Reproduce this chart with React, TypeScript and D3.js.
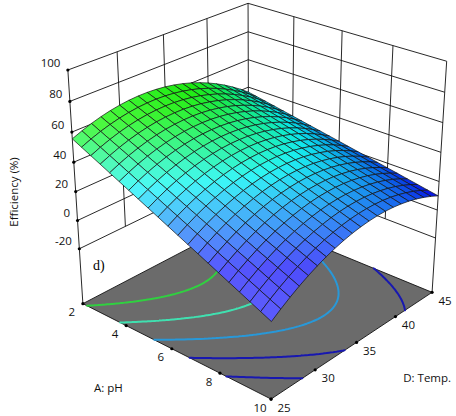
import * as d3 from 'd3';
import React, { useRef, useEffect } from 'react';

const width = 456;
const height = 416;

// factor ranges and tick labels
const phTicks = [2, 4, 6, 8, 10];
const tempTicks = [25, 30, 35, 40, 45];
const effTicks = [-20, 0, 20, 40, 60, 80, 100];
const effRange = [-60, 100];

// coded quadratic model (A = pH, D = Temp, both coded -1..1)
const modelTerms = ['1', 'A', 'D', 'AD', 'A2', 'D2'];
const modelCoefs = [42.5, -22.5, -0.3, 9.3, -0.25, -18.8];

// contour levels drawn on the floor
const contourLevels = [6, 18, 30, 42, 54];
const contourColors = ['#1818b0', '#1818b0', '#2898d8', '#40e0b0', '#30d040'];

// camera
const view = {
  azimuth: 41.4,
  elevation: 26.4,
  distance: 11,
  focal: 1416,
  cx: 258.7,
  cy: 186.5,
  halfHeight: 1.006,
};
const meshCells = 20;

const xs = d3.scaleLinear().domain([2, 10]).range([-1, 1]);
const ys = d3.scaleLinear().domain([25, 45]).range([-1, 1]);
const zs = d3.scaleLinear().domain(effRange).range([-view.halfHeight, view.halfHeight]);

const az = (view.azimuth * Math.PI) / 180;
const el = (view.elevation * Math.PI) / 180;
const ca = Math.cos(az);
const sa = Math.sin(az);
const ce = Math.cos(el);
const se = Math.sin(el);

const toView = (X: number, Y: number, Z: number) => {
  const xc = X * ca + Y * sa;
  const q = X * sa - Y * ca;
  const depth = view.distance - q * ce - Z * se;
  const up = -q * se + Z * ce;
  return [view.cx + (view.focal * xc) / depth, view.cy - (view.focal * up) / depth, depth];
};
const project = (ph: number, t: number, eff: number) => toView(xs(ph), ys(t), zs(eff));

const efficiency = (ph: number, t: number) => {
  const a = xs(ph);
  const d = ys(t);
  const term: Record<string, number> = { '1': 1, A: a, D: d, AD: a * d, A2: a * a, D2: d * d };
  return d3.sum(modelTerms, (k, i) => modelCoefs[i] * term[k]);
};

const baseColor = d3
  .scaleLinear<string>()
  .domain([10, 38, 60])
  .range(['#0000ff', '#00ffff', '#10ff00'])
  .clamp(true);

const light = (() => {
  const v = [0.3, -0.8, 0.5];
  const n = Math.hypot(v[0], v[1], v[2]);
  return v.map((c) => c / n);
})();

const shade = (eff: number, lam: number) => {
  const c = d3.rgb(baseColor(eff));
  const k = 0.86 + 0.14 * lam;
  const w = 0.45 * lam * lam;
  const mix = (v: number) => v * k * (1 - w) + 255 * w;
  return d3.rgb(mix(c.r), mix(c.g), mix(c.b)).formatHex();
};

// marching squares on the floor
const isoSegments = (level: number, n: number) => {
  const ph = d3.range(n + 1).map((i) => 2 + (8 * i) / n);
  const tt = d3.range(n + 1).map((j) => 25 + (20 * j) / n);
  const v = ph.map((p) => tt.map((t) => efficiency(p, t)));
  const segs: number[][][] = [];
  for (let i = 0; i < n; i++) {
    for (let j = 0; j < n; j++) {
      const c = [
        [ph[i], tt[j], v[i][j]],
        [ph[i + 1], tt[j], v[i + 1][j]],
        [ph[i + 1], tt[j + 1], v[i + 1][j + 1]],
        [ph[i], tt[j + 1], v[i][j + 1]],
      ];
      const pts: number[][] = [];
      for (let k = 0; k < 4; k++) {
        const p = c[k];
        const q = c[(k + 1) % 4];
        if ((p[2] - level) * (q[2] - level) < 0) {
          const f = (level - p[2]) / (q[2] - p[2]);
          pts.push([p[0] + (q[0] - p[0]) * f, p[1] + (q[1] - p[1]) * f]);
        }
      }
      if (pts.length >= 2) segs.push([pts[0], pts[1]]);
      if (pts.length === 4) segs.push([pts[2], pts[3]]);
    }
  }
  return segs;
};

const App = () => {
  const ref = useRef<SVGSVGElement>(null);

  useEffect(() => {
    if (!ref.current) return;
    const svg = d3.select(ref.current);
    svg.selectAll('*').remove();

    const floorZ = effRange[0];
    const line = d3.line<number[]>().x((p) => p[0]).y((p) => p[1]);
    const seg = (a: number[], b: number[]) =>
      line([project(a[0], a[1], a[2]), project(b[0], b[1], b[2])]);

    // back walls
    const frame = svg.append('g').attr('fill', 'none').attr('stroke', '#111').attr('stroke-width', 0.9);
    effTicks.forEach((e) => {
      frame.append('path').attr('d', seg([2, 25, e], [2, 45, e]));
      frame.append('path').attr('d', seg([2, 45, e], [10, 45, e]));
    });
    tempTicks.slice(1, -1).forEach((t) => {
      frame.append('path').attr('d', seg([2, t, -20], [2, t, 100]));
    });
    phTicks.slice(1, -1).forEach((p) => {
      frame.append('path').attr('d', seg([p, 45, -20], [p, 45, 100]));
    });
    frame.append('path').attr('d', seg([2, 25, floorZ], [2, 25, 100]));
    frame.append('path').attr('d', seg([2, 45, floorZ], [2, 45, 100]));
    frame.append('path').attr('d', seg([10, 45, floorZ], [10, 45, 100]));

    // floor
    const floorPts = [
      [2, 25],
      [10, 25],
      [10, 45],
      [2, 45],
    ].map((p) => project(p[0], p[1], floorZ));
    svg
      .append('path')
      .attr('d', line(floorPts) + 'Z')
      .attr('fill', '#6b6b6b')
      .attr('stroke', '#111')
      .attr('stroke-width', 0.9);

    // floor contours
    contourLevels.forEach((lv, i) => {
      const d = isoSegments(lv, 90)
        .map((s) => line(s.map((p) => project(p[0], p[1], floorZ))))
        .join('');
      svg
        .append('path')
        .attr('d', d)
        .attr('fill', 'none')
        .attr('stroke', contourColors[i])
        .attr('stroke-width', 2)
        .attr('stroke-linecap', 'round');
    });

    // tick dots and labels
    const font = "'Open Sans', 'DejaVu Sans', sans-serif";
    const txt = svg.append('g').attr('font-family', font).attr('font-size', 11.5).attr('fill', '#111');
    const dots = svg.append('g').attr('fill', '#000');

    effTicks.forEach((e) => {
      const p = project(2, 25, e);
      dots.append('circle').attr('cx', p[0]).attr('cy', p[1]).attr('r', 1.6);
      txt
        .append('text')
        .attr('x', p[0] - 7.5)
        .attr('y', p[1] - 7.8)
        .attr('text-anchor', 'end')
        .attr('dominant-baseline', 'central')
        .text(e);
    });
    phTicks.forEach((ph) => {
      const p = project(ph, 25, floorZ);
      dots.append('circle').attr('cx', p[0]).attr('cy', p[1]).attr('r', 1.6);
      txt
        .append('text')
        .attr('x', p[0] - 11)
        .attr('y', p[1] + 8)
        .attr('text-anchor', 'middle')
        .attr('dominant-baseline', 'central')
        .text(ph);
    });
    tempTicks.forEach((t) => {
      const p = project(10, t, floorZ);
      dots.append('circle').attr('cx', p[0]).attr('cy', p[1]).attr('r', 1.6);
      txt
        .append('text')
        .attr('x', p[0] + 13)
        .attr('y', p[1] + 8)
        .attr('text-anchor', 'middle')
        .attr('dominant-baseline', 'central')
        .text(t);
    });

    // surface mesh
    const n = meshCells;
    const phs = d3.range(n + 1).map((i) => 2 + (8 * i) / n);
    const tts = d3.range(n + 1).map((j) => 25 + (20 * j) / n);
    const quads: { d: string; depth: number; fill: string }[] = [];
    for (let i = 0; i < n; i++) {
      for (let j = 0; j < n; j++) {
        const corners = [
          [phs[i], tts[j]],
          [phs[i + 1], tts[j]],
          [phs[i + 1], tts[j + 1]],
          [phs[i], tts[j + 1]],
        ].map((c) => [c[0], c[1], efficiency(c[0], c[1])]);
        const w = corners.map((c) => [xs(c[0]), ys(c[1]), zs(c[2])]);
        const u = [w[2][0] - w[0][0], w[2][1] - w[0][1], w[2][2] - w[0][2]];
        const v = [w[3][0] - w[1][0], w[3][1] - w[1][1], w[3][2] - w[1][2]];
        let nx = u[1] * v[2] - u[2] * v[1];
        let ny = u[2] * v[0] - u[0] * v[2];
        let nz = u[0] * v[1] - u[1] * v[0];
        const len = Math.hypot(nx, ny, nz) * (nz < 0 ? -1 : 1);
        nx /= len;
        ny /= len;
        nz /= len;
        const lam = Math.max(0, nx * light[0] + ny * light[1] + nz * light[2]);
        const pts = corners.map((c) => project(c[0], c[1], c[2]));
        const mean = d3.mean(corners, (c) => c[2]) as number;
        quads.push({
          d: line(pts) + 'Z',
          depth: d3.mean(pts, (p) => p[2]) as number,
          fill: shade(mean, lam),
        });
      }
    }
    quads.sort((a, b) => b.depth - a.depth);
    svg
      .append('g')
      .selectAll('path')
      .data(quads)
      .join('path')
      .attr('d', (q) => q.d)
      .attr('fill', (q) => q.fill)
      .attr('stroke', '#111')
      .attr('stroke-width', 0.7)
      .attr('stroke-linejoin', 'round');

    // axis titles
    const aMid = project(6, 25, floorZ);
    const dMid = project(10, 35, floorZ);
    txt
      .append('text')
      .attr('x', aMid[0] - 63.5)
      .attr('y', aMid[1] + 39)
      .attr('text-anchor', 'middle')
      .attr('dominant-baseline', 'central')
      .text('A: pH');
    txt
      .append('text')
      .attr('x', dMid[0] + 70.6)
      .attr('y', dMid[1] + 35)
      .attr('text-anchor', 'middle')
      .attr('dominant-baseline', 'central')
      .text('D: Temp.');
    txt
      .append('text')
      .attr('transform', 'translate(13,192) rotate(-90)')
      .attr('text-anchor', 'middle')
      .attr('dominant-baseline', 'central')
      .text('Efficiency (%)');

    svg
      .append('text')
      .attr('x', 93)
      .attr('y', 270)
      .attr('font-family', "'Liberation Serif', 'DejaVu Serif', serif")
      .attr('font-size', 14)
      .attr('fill', '#000')
      .text('d)');
  }, []);

  return (
    <svg
      ref={ref}
      width={width}
      height={height}
      style={{ position: 'absolute', left: 0, top: 0, background: '#fff' }}
    />
  );
};

export default App;
